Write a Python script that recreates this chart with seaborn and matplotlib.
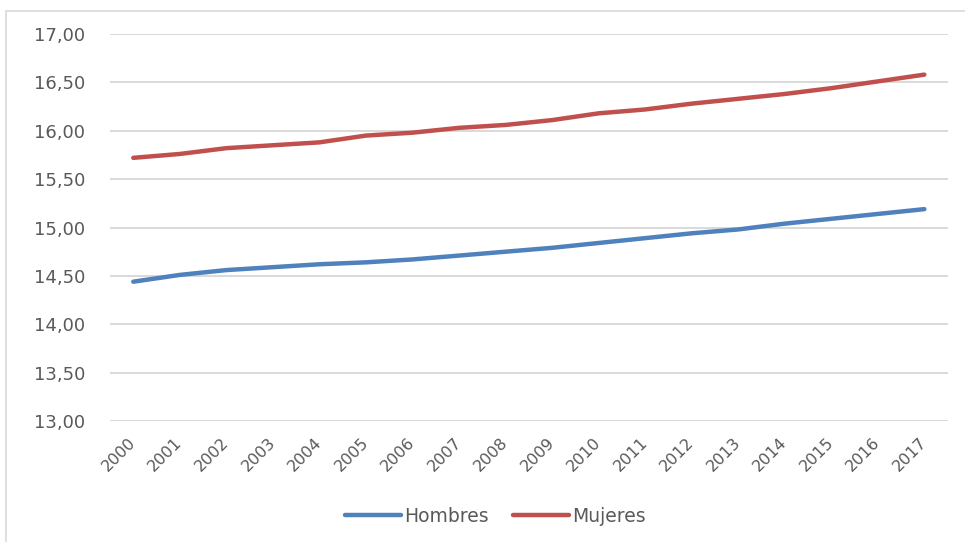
import matplotlib
matplotlib.use("Agg")
import matplotlib.pyplot as plt
import seaborn as sns
import pandas as pd
from matplotlib.patches import Rectangle

years = [str(y) for y in range(2000, 2018)]
hombres = [14.44, 14.51, 14.56, 14.59, 14.62, 14.64, 14.67, 14.71, 14.75,
           14.79, 14.84, 14.89, 14.94, 14.98, 15.04, 15.09, 15.14, 15.19]
mujeres = [15.72, 15.76, 15.82, 15.85, 15.88, 15.95, 15.98, 16.03, 16.06,
           16.11, 16.18, 16.22, 16.28, 16.33, 16.38, 16.44, 16.51, 16.58]
yticks = [13.0, 13.5, 14.0, 14.5, 15.0, 15.5, 16.0, 16.5, 17.0]

df = pd.DataFrame({"year": years * 2,
                   "valor": hombres + mujeres,
                   "serie": ["Hombres"] * len(years) + ["Mujeres"] * len(years)})

sns.set_style("white")
plt.rcParams["font.family"] = ["DejaVu Sans"]
txt = "#595959"

fig = plt.figure(figsize=(9.65, 5.42), dpi=100)
ax = fig.add_axes([0.114, 0.2232, 0.868, 0.7141])

sns.lineplot(data=df, x="year", y="valor", hue="serie",
             palette={"Hombres": "#4F81BD", "Mujeres": "#C0504D"},
             linewidth=3.2, ax=ax, solid_capstyle="round")

ax.set_xlim(-0.5, len(years) - 0.5)
ax.set_ylim(13, 17)
ax.set_yticks(yticks)
ax.set_yticklabels([f"{v:.2f}".replace(".", ",") for v in yticks])
ax.yaxis.grid(True, color="#D9D9D9", linewidth=1.4)
ax.xaxis.grid(False)
for s in ax.spines.values():
    s.set_visible(False)
ax.set_xlabel("")
ax.set_ylabel("")
ax.tick_params(axis="y", length=0, pad=18, labelsize=13, labelcolor=txt)
ax.tick_params(axis="x", length=0, pad=14, labelsize=11.5, labelcolor=txt)
for lab in ax.get_xticklabels():
    lab.set_rotation(45)
    lab.set_ha("right")
    lab.set_va("center")
    lab.set_rotation_mode("anchor")

ax.legend(title=None, loc="center", bbox_to_anchor=(0.46, -0.246), ncol=2,
          frameon=False, fontsize=13.5, labelcolor=txt, handlelength=3.0,
          handletextpad=0.15, columnspacing=1.3)

fig.patches.append(Rectangle((6 / 965, -0.2), 1.2, 1.2 - 11 / 542,
                             transform=fig.transFigure, fill=False,
                             edgecolor="#D9D9D9", linewidth=1.2))

fig.savefig("out.png", dpi=100)
